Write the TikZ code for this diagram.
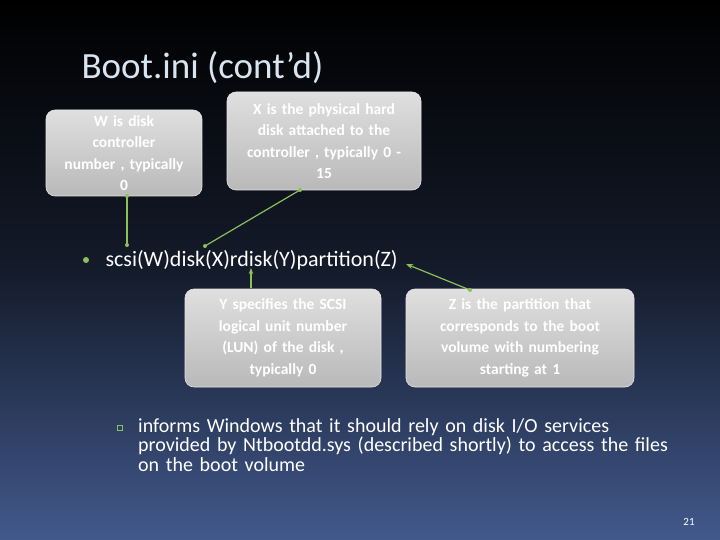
\documentclass[tikz,border=0pt]{standalone}
\usepackage{fontspec}
\setmainfont{Carlito}
\usetikzlibrary{arrows.meta}
\definecolor{bgtop}{HTML}{000000}
\definecolor{bgbot}{HTML}{42598C}
\definecolor{conn}{HTML}{8DBF5A}
\definecolor{ttl}{HTML}{D8E4F0}
\hyphenpenalty=10000
\exhyphenpenalty=10000
\tikzset{
 callout/.style={rounded corners=9pt, top color=gray!25, bottom color=gray!55, draw=white!80!gray, line width=0.6pt, text=white, font=\bfseries\fontsize{15.5}{21.5}\selectfont, align=center, inner sep=3pt},
 link/.style={conn, line width=1.2pt},
 dotend/.style={circle, fill=conn, inner sep=0pt, minimum size=4pt},
}
\begin{document}
\begin{tikzpicture}[x=1pt,y=-1pt]
\shade[top color=bgtop, bottom color=bgbot, middle color=bgtop!70!bgbot] (0,0) rectangle (720,540);
\useasboundingbox (0,0) rectangle (720,540);
\node[anchor=west, text=ttl, font=\fontsize{37}{42}\selectfont] (title) at (78,68) {Boot.ini (cont’d)};
\node[callout, minimum width=156pt, minimum height=86pt, text width=140pt] (w) at (124,153) {W is disk\\ controller\\ number , typically\\ 0};
\node[callout, minimum width=194pt, minimum height=98pt, text width=186pt] (x) at (324,141) {X is the physical hard\\ disk attached to the\\ controller , typically 0 -\\ 15};
\node[callout, minimum width=196pt, minimum height=98pt, text width=186pt] (y) at (283,338) {Y specifies the SCSI\\ logical unit number\\ (LUN) of the disk ,\\ typically 0};
\node[callout, minimum width=228pt, minimum height=98pt, text width=210pt] (z) at (520,338) {Z is the partition that\\ corresponds to the boot\\ volume with numbering\\ starting at 1};
\node[circle, fill=conn, inner sep=0pt, minimum size=6pt] (bul) at (86,260) {};
\node[anchor=west, text=white, font=\fontsize{22}{26}\selectfont] (main) at (102,260) {scsi(W)disk(X)rdisk(Y)partition(Z)};
\node[anchor=north west, text=white, font=\fontsize{20}{19.5}\selectfont, text width=545pt, align=left, inner sep=0pt] (info) at (138,418) {informs Windows that it should rely on disk I/O services provided by Ntbootdd.sys (described shortly) to access the files on the boot volume};
\node[draw=conn, line width=0.6pt, minimum size=5pt, inner sep=0pt] (sq) at (120,428) {};
\node[text=white, font=\fontsize{11}{12}\selectfont] (pg) at (689,522) {21};
\coordinate (wa) at (127,196);
\coordinate (wb) at (127,245);
\coordinate (xa) at (300,190);
\coordinate (xb) at (205,246);
\coordinate (ya) at (251,288);
\coordinate (yb) at (251,268);
\coordinate (za) at (470,290);
\coordinate (zb) at (406,264);
\draw[link] (wa) -- (wb);
\node[dotend] at (wa) {}; \node[dotend] at (wb) {};
\draw[link] (xa) -- (xb);
\node[dotend] at (xa) {}; \node[dotend] at (xb) {};
\draw[link,-{Stealth[length=6pt]}] (ya) -- (yb);
\draw[link,-{Stealth[length=7pt]}] (za) -- (zb);
\node[dotend] at (za) {};
\end{tikzpicture}
\end{document}
